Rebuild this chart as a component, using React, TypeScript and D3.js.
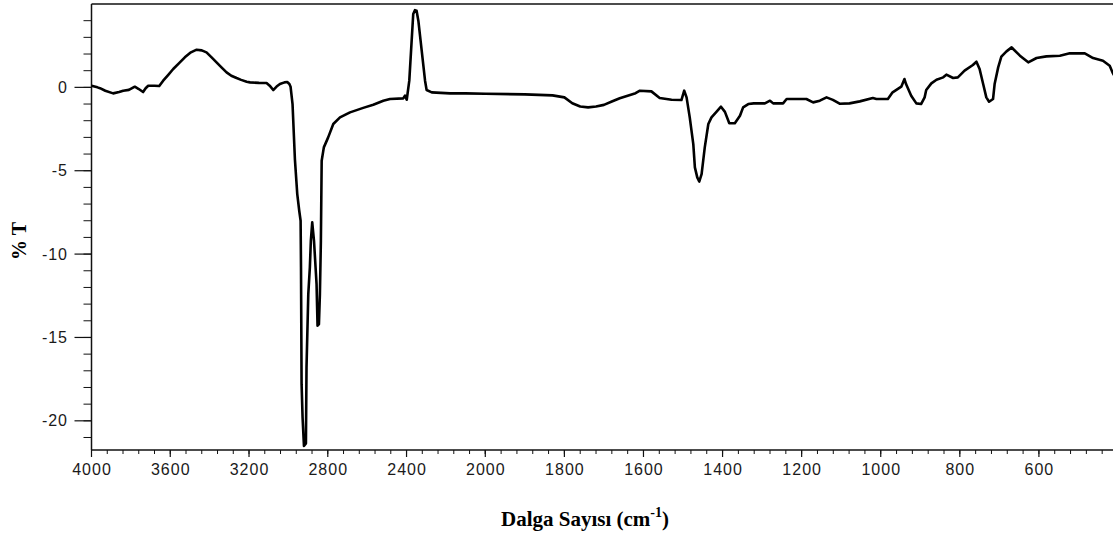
import React from "react";
import * as d3 from "d3";

const wavenumbers: number[] = [
  4000, 3970, 3957, 3930, 3890, 3860, 3839, 3810, 3780, 3760, 3738, 3725, 3712, 3680, 3656, 3636, 3610, 3585, 3555, 3526,
  3495, 3466, 3440, 3416, 3390, 3365, 3340, 3314, 3290, 3263, 3240, 3212, 3195, 3150, 3111, 3095, 3077, 3060, 3043, 3020,
  3006, 2995, 2989, 2979, 2967, 2955, 2945, 2938, 2936, 2933, 2928, 2921, 2911, 2908, 2899, 2891, 2886, 2879, 2870, 2862,
  2857, 2852, 2845, 2840, 2835, 2831, 2820, 2798, 2772, 2738, 2687, 2620, 2569, 2518, 2484, 2417, 2408, 2399, 2386, 2374,
  2366, 2357, 2349, 2340, 2323, 2306, 2298, 2272, 2179, 2100, 2000, 1900, 1830, 1800, 1780, 1760, 1740, 1720, 1700, 1680,
  1660, 1640, 1620, 1609, 1580, 1559, 1529, 1504, 1497, 1491, 1483, 1474, 1470, 1464, 1459, 1453, 1445, 1436, 1428, 1415,
  1404, 1394, 1383, 1369, 1356, 1348, 1335, 1321, 1293, 1280, 1272, 1247, 1238, 1188, 1171, 1154, 1137, 1121, 1104, 1079,
  1053, 1020, 1011, 982, 970, 948, 940, 936, 923, 910, 898, 889, 885, 872, 859, 842, 834, 817, 805, 788,
  767, 758, 750, 741, 733, 726, 716, 712, 703, 695, 682, 669, 665, 648, 627, 606, 581, 547, 522, 484,
  463, 438, 421, 414, 405,
];

const transmittance: number[] = [
  0.1, 0.0, -0.05, -0.2, -0.36, -0.28, -0.2, -0.15, 0.04, -0.1, -0.28, -0.05, 0.1, 0.1, 0.08, 0.4, 0.75, 1.1, 1.45, 1.8,
  2.1, 2.26, 2.22, 2.1, 1.8, 1.5, 1.2, 0.9, 0.7, 0.56, 0.45, 0.34, 0.3, 0.27, 0.26, 0.1, -0.16, 0.05, 0.2, 0.3,
  0.32, 0.2, 0.04, -1.0, -4.3, -6.4, -7.4, -8.0, -10.8, -17.8, -19.8, -21.5, -21.35, -16.8, -12.4, -10.8, -9.2, -8.1, -9.2, -10.8,
  -11.8, -14.3, -14.2, -12.4, -9.2, -4.4, -3.6, -3.0, -2.2, -1.8, -1.5, -1.23, -1.04, -0.8, -0.7, -0.66, -0.5, -0.74, 0.4, 2.8,
  4.4, 4.63, 4.6, 4.0, 2.2, 0.4, -0.16, -0.3, -0.36, -0.36, -0.38, -0.42, -0.48, -0.6, -0.95, -1.15, -1.2, -1.15, -1.05, -0.85,
  -0.65, -0.5, -0.35, -0.2, -0.24, -0.64, -0.74, -0.76, -0.2, -0.6, -1.8, -3.4, -4.8, -5.4, -5.65, -5.2, -3.6, -2.2, -1.8, -1.46,
  -1.16, -1.47, -2.15, -2.15, -1.7, -1.2, -1.0, -0.96, -0.96, -0.8, -0.96, -0.96, -0.7, -0.7, -0.9, -0.8, -0.6, -0.75, -0.98, -0.96,
  -0.84, -0.64, -0.7, -0.7, -0.3, 0.04, 0.5, 0.2, -0.5, -0.96, -1.0, -0.6, -0.16, 0.24, 0.46, 0.6, 0.76, 0.56, 0.6, 1.0,
  1.34, 1.54, 1.1, 0.2, -0.6, -0.86, -0.7, 0.2, 1.2, 1.84, 2.16, 2.4, 2.3, 1.9, 1.5, 1.76, 1.86, 1.9, 2.04, 2.04,
  1.76, 1.6, 1.3, 0.9, 0.5,
];

const xTickLabels: number[] = [4000, 3600, 3200, 2800, 2400, 2000, 1800, 1600, 1400, 1200, 1000, 800, 600];
const yTickLabels: number[] = [0, -5, -10, -15, -20];

const W = 1113;
const H = 536;
const left = 91.5;
const top = 4;
const bottom = 450;
const right = 1113;

export default function App() {
  const x = d3.scaleLinear().domain([4000, 2000, 400]).range([left, 485.3, 1118]);
  const y = d3.scaleLinear().domain([5, -21.75]).range([top, bottom]);

  const data = wavenumbers.map((w, i) => [w, transmittance[i]] as [number, number]);
  const line = d3
    .line<[number, number]>()
    .x((d) => x(d[0]))
    .y((d) => y(d[1]));

  // minor ticks: 5 subdivisions between majors
  const xMinor: number[] = [];
  for (let v = 4000; v >= 2000; v -= 80) xMinor.push(v);
  for (let v = 2000; v >= 400; v -= 40) xMinor.push(v);
  const yMinor: number[] = d3.range(-21, 5, 1);

  const tickFont = "'Liberation Sans', Arial, sans-serif";
  const serif = "'Liberation Serif', 'Times New Roman', serif";

  return (
    <svg
      width={W}
      height={H}
      style={{ position: "absolute", left: 0, top: 0, background: "#fff" }}
    >
      <defs>
        <clipPath id="plotClip">
          <rect x={left} y={top} width={right - left} height={bottom - top} />
        </clipPath>
      </defs>

      {/* frame */}
      <line x1={left} x2={right} y1={top} y2={top} stroke="#111" strokeWidth={1.5} />
      <line x1={left} x2={left} y1={top} y2={bottom} stroke="#111" strokeWidth={1.5} />
      <line x1={left} x2={right} y1={bottom} y2={bottom} stroke="#111" strokeWidth={1.5} />

      {/* x ticks */}
      {xMinor.map((v, i) => (
        <line key={"xm" + i} x1={x(v)} x2={x(v)} y1={bottom} y2={bottom + 4} stroke="#111" strokeWidth={1} />
      ))}
      {xTickLabels.map((v) => (
        <g key={"xt" + v}>
          <line x1={x(v)} x2={x(v)} y1={bottom} y2={bottom + 7} stroke="#111" strokeWidth={1.2} />
          <text
            x={x(v) + 0.5}
            y={475}
            textAnchor="middle"
            fontFamily={tickFont}
            fontSize={16}
            letterSpacing={1}
            fill="#1a1a1a"
          >
            {v}
          </text>
        </g>
      ))}

      {/* y ticks */}
      {yMinor.map((v) => (
        <line key={"ym" + v} x1={left - 8} x2={left} y1={y(v)} y2={y(v)} stroke="#111" strokeWidth={1} />
      ))}
      {yTickLabels.map((v) => (
        <g key={"yt" + v}>
          <line x1={left - 17} x2={left} y1={y(v)} y2={y(v)} stroke="#111" strokeWidth={1.2} />
          <text
            x={68}
            y={y(v) + 5.5}
            textAnchor="end"
            fontFamily={tickFont}
            fontSize={16}
            letterSpacing={1}
            fill="#1a1a1a"
          >
            {v}
          </text>
        </g>
      ))}

      {/* spectrum */}
      <path
        d={line(data) || ""}
        fill="none"
        stroke="#000"
        strokeWidth={2.6}
        strokeLinejoin="round"
        clipPath="url(#plotClip)"
      />

      {/* axis titles */}
      <text
        x={585}
        y={526}
        textAnchor="middle"
        fontFamily={serif}
        fontWeight="bold"
        fontSize={21}
        fill="#000"
      >
        Dalga Sayısı (cm
        <tspan fontSize={14} dy={-9}>-1</tspan>
        <tspan dy={9}>)</tspan>
      </text>
      <text
        transform="translate(26,241) rotate(-90)"
        textAnchor="middle"
        fontFamily={serif}
        fontWeight="bold"
        fontSize={20}
        fill="#000"
      >
        % T
      </text>
    </svg>
  );
}
